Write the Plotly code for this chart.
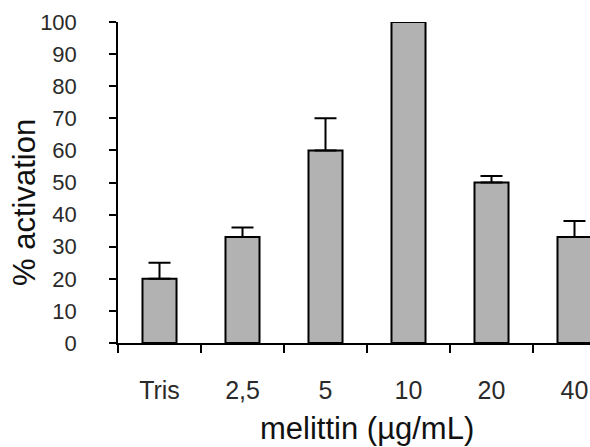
import plotly.graph_objects as go

categories = ["Tris", "2,5", "5", "10", "20", "40"]
values = [20, 33, 60, 100, 50, 33]
err_up = [5, 3, 10, 0, 2, 5]
y_ticks = [0, 10, 20, 30, 40, 50, 60, 70, 80, 90, 100]

W, H = 590, 447
L, T, B = 118, 22, 343  # plot area pixels
x_axis_px = lambda px: (px - L) / (W - L)
y_axis_px = lambda py: (B - py) / (B - T)

FONT = "Liberation Sans, Arial, sans-serif"

fig = go.Figure(go.Bar(
    x=categories,
    y=values,
    width=0.41,
    marker=dict(color="#b2b2b2", line=dict(color="black", width=2)),
    error_y=dict(type="data", symmetric=False, array=err_up,
                 arrayminus=[0] * len(values), color="black",
                 thickness=2, width=11),
))

fig.update_layout(
    width=W, height=H,
    margin=dict(l=L, r=0, t=T, b=H - B),
    plot_bgcolor="white", paper_bgcolor="white",
    showlegend=False,
    font=dict(family=FONT, color="#222", size=20),
    xaxis=dict(
        type="category",
        categoryorder="array", categoryarray=categories,
        range=[-0.5, -0.5 + (W - L) / 83.0],
        tickson="boundaries",
        showline=True, linecolor="black", linewidth=1.5,
        ticks="outside", ticklen=8, tickwidth=1.5, tickcolor="black",
        showgrid=False, zeroline=False,
        tickfont=dict(size=25, color="#2a2a2a"),
        ticklabelposition="outside",
        ticklabelstandoff=24,
    ),
    yaxis=dict(
        range=[0, 100],
        tickmode="array", tickvals=y_ticks,
        showline=True, linecolor="black", linewidth=1.5,
        ticks="outside", ticklen=7, tickwidth=1.5, tickcolor="black",
        showgrid=False, zeroline=False,
        tickfont=dict(size=22, color="#2a2a2a"),
        ticklabelposition="outside",
        ticklabelstandoff=28,
    ),
    annotations=[
        dict(text="% activation", textangle=-90, showarrow=False,
             xref="paper", yref="paper", x=x_axis_px(25), y=y_axis_px(203),
             xanchor="center", yanchor="middle",
             font=dict(size=31, color="#111", family=FONT)),
        dict(text="melittin (µg/mL)", showarrow=False,
             xref="paper", yref="paper", x=x_axis_px(367), y=y_axis_px(428),
             xanchor="center", yanchor="middle",
             font=dict(size=31, color="#111", family=FONT)),
    ],
)

fig.write_html("out.html")
